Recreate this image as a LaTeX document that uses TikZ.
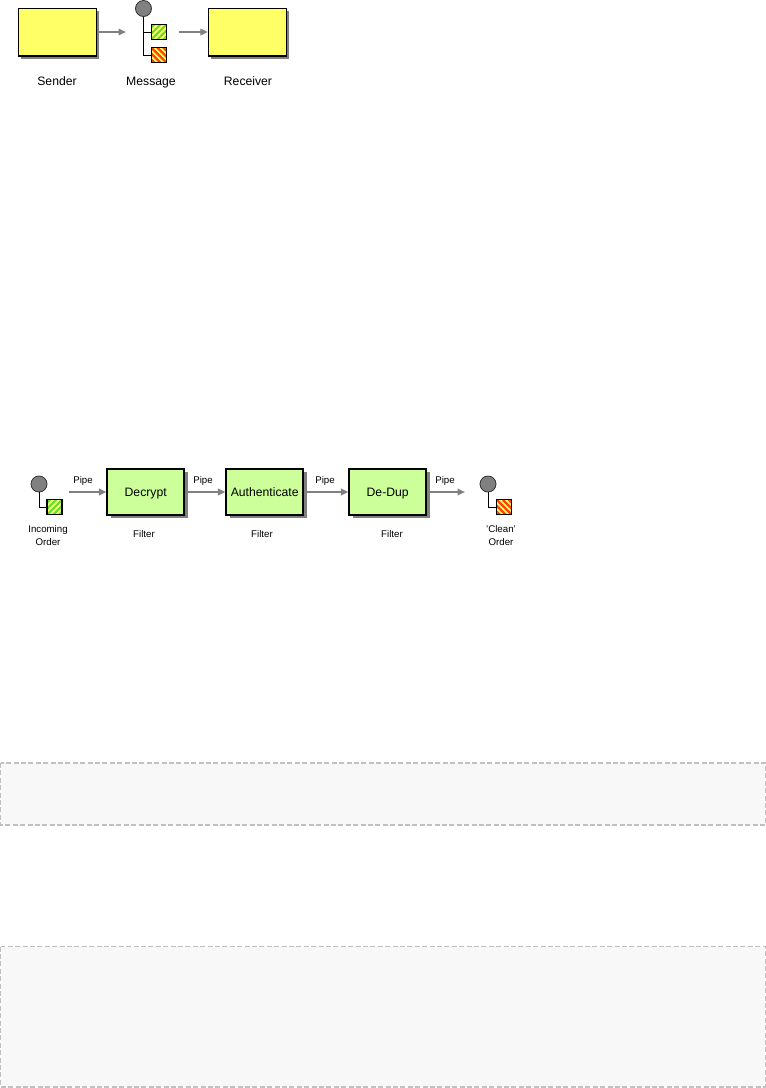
\documentclass[tikz,border=0pt]{standalone}
\usepackage{fontspec}
\setmainfont{Liberation Sans}
\usetikzlibrary{arrows.meta}
\definecolor{boxyellow}{HTML}{FFFF66}
\definecolor{boxgreen}{HTML}{CCFF99}
\definecolor{panelfill}{HTML}{F8F8F8}
\definecolor{paneldash}{HTML}{C0C0C0}
\definecolor{pipegray}{HTML}{808080}
\definecolor{shadowgray}{HTML}{808080}
\definecolor{hatchgreen}{HTML}{66DD33}
\definecolor{hatchyellow}{HTML}{FFFF66}
\definecolor{hatchred}{HTML}{FF4400}
\tikzset{
  x=1pt,y=-1pt,
  panel/.style={draw=paneldash,fill=panelfill,line width=1.5pt,dash pattern=on 5pt off 2.4pt},
  basebox/.style={draw=black,inner sep=0pt,anchor=center},
  sysbox/.style={basebox,fill=boxyellow,minimum width=78pt,minimum height=47.5pt,line width=1.3pt,
    preaction={draw=none,fill=shadowgray,transform canvas={shift={(2.5pt,-2.5pt)}}}},
  filterbox/.style={basebox,fill=boxgreen,minimum width=76.6pt,minimum height=46pt,line width=2pt,
    font=\fontsize{12.2}{14}\selectfont,text height=9pt,text depth=0pt,
    preaction={draw=none,fill=shadowgray,transform canvas={shift={(3.6pt,-3.6pt)}}}},
  pipe/.style={draw=pipegray,line width=2pt,-{Triangle[length=7.5pt,width=6.5pt,fill=pipegray]},shorten >=0pt},
  tree/.style={draw=black,line width=1pt},
  header/.style={circle,draw=black!80,line width=0.8pt,fill=pipegray,minimum size=16pt,inner sep=0pt},
  greenpart/.style={draw=black,line width=1.2pt,minimum size=15pt,inner sep=0pt,fill=hatchyellow,
    path picture={\foreach \k in {-24,-18,...,24}{
      \draw[hatchgreen,line width=2.2pt] ([xshift=\k pt]path picture bounding box.south west) -- ++(24pt,24pt);}}},
  redpart/.style={draw=black,line width=1.2pt,minimum size=15pt,inner sep=0pt,fill=hatchyellow,
    path picture={\foreach \k in {-24,-18,...,24}{
      \draw[hatchred,line width=2.3pt] ([xshift=\k pt]path picture bounding box.north west) -- ++(24pt,-24pt);}}},
  biglabel/.style={font=\fontsize{12.2}{14}\selectfont,inner sep=0pt,anchor=base},
  smalllabel/.style={font=\fontsize{9.7}{13}\selectfont,inner sep=0pt,align=center},
  smallbase/.style={font=\fontsize{9.7}{13}\selectfont,inner sep=0pt,anchor=base},
}
\begin{document}
\begin{tikzpicture}
\useasboundingbox[fill=white] (0,0) rectangle (766,1088);
% panels
\path[panel] (0.7,763) rectangle (765.3,825);
\path[panel] (0.7,946.5) rectangle (765.3,1087);
% top diagram
\node[sysbox] (sender) at (57.5,32.25) {};
\node[sysbox] (receiver) at (247.5,32.25) {};
\node[header] (mh) at (143.5,8.5) {};
\node[greenpart] (mg) at (158.8,32) {};
\node[redpart] (mr) at (158.8,55) {};
\draw[tree] (mh.south) |- (mg.west);
\draw[tree] (mh.south) |- (mr.west);
\coordinate (a1) at (126,32);
\coordinate (a2) at (179,32);
\draw[pipe] ([xshift=1.8pt]sender.east |- a1) -- (a1);
\draw[pipe] (a2) -- (receiver.west |- a2);
\node[biglabel] (lsender) at (57,85) {Sender};
\node[biglabel] (lmessage) at (151,85) {Message};
\node[biglabel] (lreceiver) at (248,85) {Receiver};
% bottom diagram
\node[filterbox] (decrypt) at (145.7,491.5) {Decrypt};
\node[filterbox] (auth) at (264.7,491.5) {Authenticate};
\node[filterbox] (dedup) at (387.7,491.5) {De-Dup};
\node[header] (ih) at (39,484) {};
\node[greenpart] (ig) at (54.5,507.3) {};
\draw[tree] (ih.south) |- (ig.west);
\node[header] (oh) at (488,484) {};
\node[redpart] (og) at (504.3,507.3) {};
\draw[tree] (oh.south) |- (og.west);
\coordinate (p0) at (68.5,492);
\coordinate (p4) at (465,492);
\draw[pipe] (p0) -- (decrypt.west |- p0);
\draw[pipe] (decrypt.east |- p0) -- (auth.west |- p0);
\draw[pipe] (auth.east |- p0) -- (dedup.west |- p0);
\draw[pipe] (dedup.east |- p0) -- (p4);
\node[smallbase] (lp0) at (83,483) {Pipe};
\node[smallbase] (lp1) at (203,483) {Pipe};
\node[smallbase] (lp2) at (325,483) {Pipe};
\node[smallbase] (lp3) at (445,483) {Pipe};
\node[smallbase] (lf1) at (144,537) {Filter};
\node[smallbase] (lf2) at (262,537) {Filter};
\node[smallbase] (lf3) at (392,537) {Filter};
\node[smalllabel] (lin) at (48,535.7) {Incoming\\Order};
\node[smalllabel] (lout) at (501,535.7) {'Clean'\\Order};
\end{tikzpicture}
\end{document}
